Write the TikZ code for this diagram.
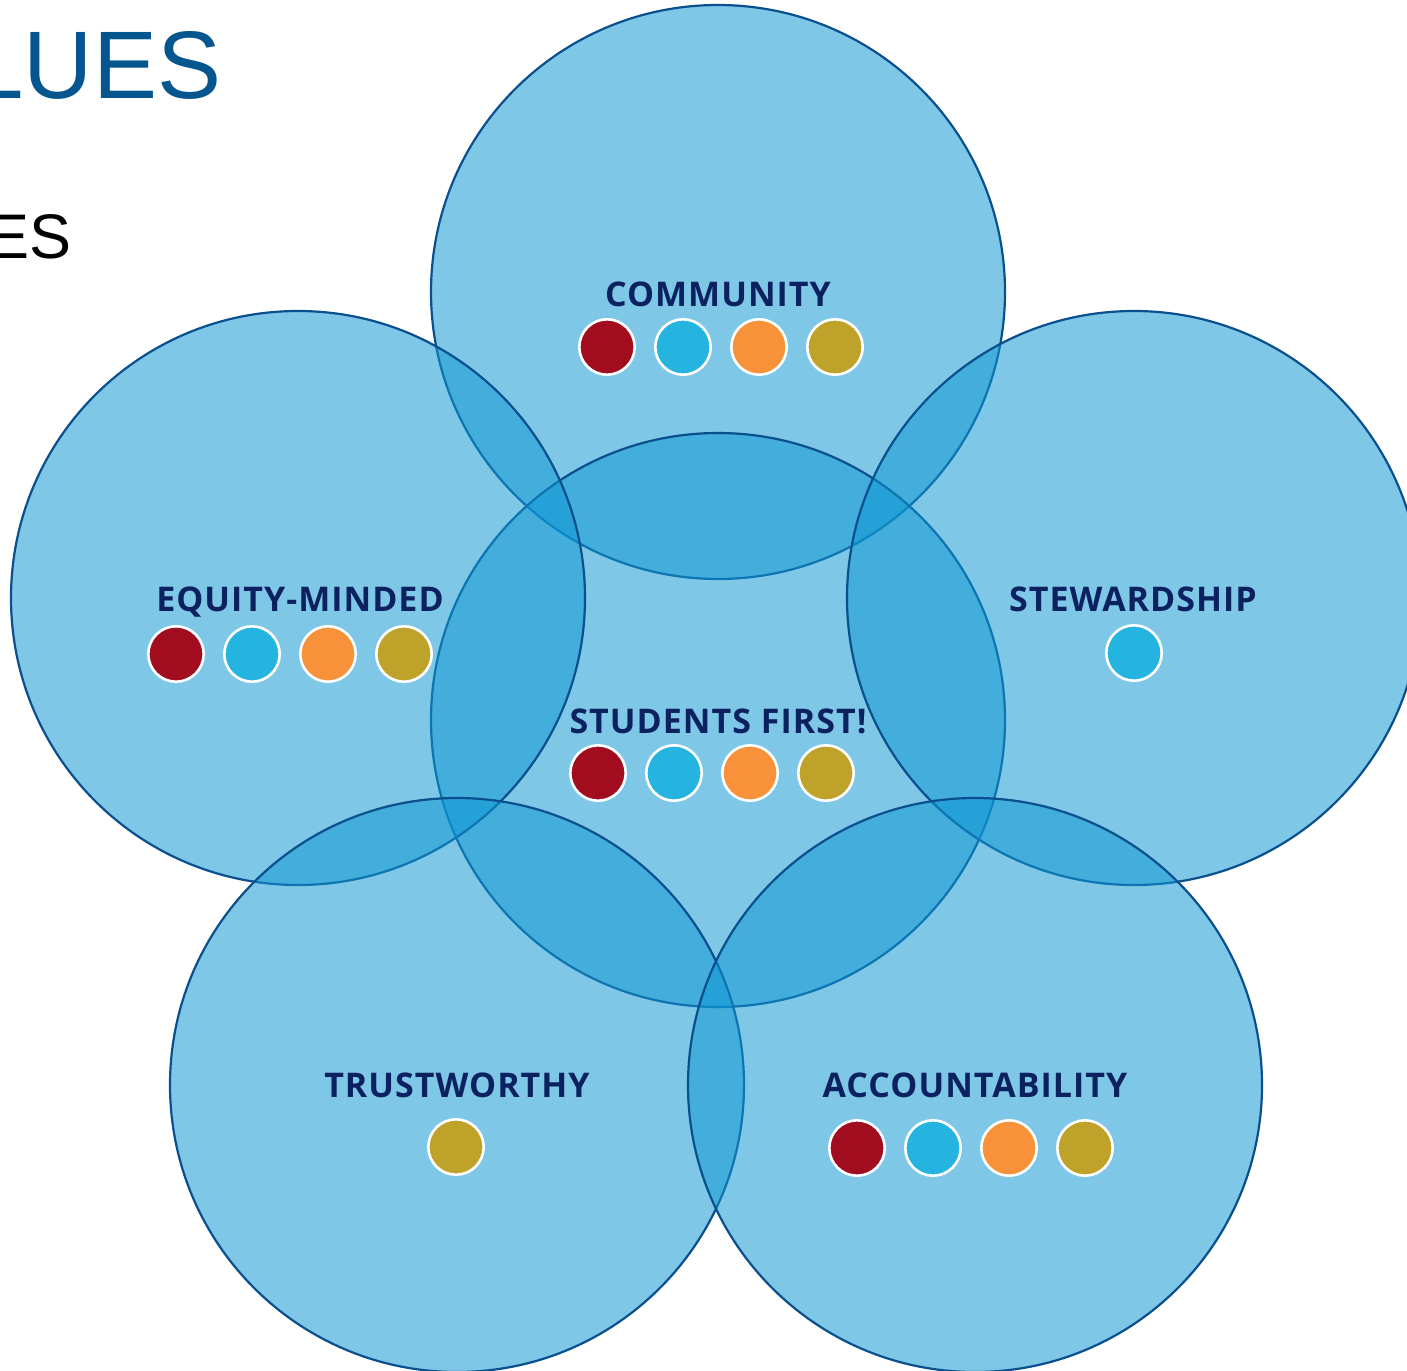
\documentclass[tikz,border=0pt]{standalone}
\usepackage{fontspec}
\setmainfont{Liberation Sans}
\newfontfamily\labelfont[LetterSpace=3]{Open Sans}

\definecolor{ringfill}{RGB}{14,151,211}
\definecolor{ringline}{RGB}{10,79,142}
\definecolor{navy}{RGB}{12,34,96}
\definecolor{titleblue}{RGB}{5,85,143}
\definecolor{dred}{RGB}{161,12,30}
\definecolor{dcyan}{RGB}{37,180,224}
\definecolor{dorange}{RGB}{247,146,58}
\definecolor{dolive}{RGB}{190,162,41}

\begin{document}
\begin{tikzpicture}[
    x=0.5pt, y=-0.5pt,
    valring/.style={circle, minimum size=287pt, inner sep=0pt, fill=ringfill, fill opacity=0.53, draw=ringline, line width=1.1pt},
    vallabel/.style={anchor=base, inner sep=0pt, text=navy, font=\labelfont\bfseries\fontsize{17}{19}\selectfont},
    dot/.style={circle, minimum size=27.7pt, inner sep=0pt, draw=white, line width=1.3pt}
]
\fill[white] (0,0) rectangle (1407,1370);
\useasboundingbox (0,0) rectangle (1407,1370);

\node[anchor=base west, inner sep=0pt, text=titleblue, font=\fontsize{48}{54}\selectfont] (title) at (-30,98) {LUES};
\node[anchor=base west, inner sep=0pt, font=\fontsize{31.5}{36}\selectfont] (subtitle) at (-13,258) {ES};

\node[valring] (community) at (718,292) {};
\node[valring] (students) at (718,720) {};
\node[valring] (equity) at (298,598) {};
\node[valring] (stewardship) at (1134,598) {};
\node[valring] (trust) at (457,1085) {};
\node[valring] (account) at (975,1085) {};

\node[vallabel] (community-lbl) at (718,306) {COMMUNITY};
\node[vallabel] (equity-lbl) at (300,611) {EQUITY-MINDED};
\node[vallabel] (students-lbl) at (718,733) {STUDENTS FIRST!};
\node[vallabel] (stewardship-lbl) at (1133,611) {STEWARDSHIP};
\node[vallabel] (trust-lbl) at (457,1097) {TRUSTWORTHY};
\node[vallabel] (account-lbl) at (975,1097) {ACCOUNTABILITY};

\foreach \c [count=\i] in {dred,dcyan,dorange,dolive}{
  \node[dot, fill=\c] (community-\i) at ({607+76*(\i-1)},347) {};
  \node[dot, fill=\c] (equity-\i) at ({176+76*(\i-1)},654) {};
  \node[dot, fill=\c] (students-\i) at ({598+76*(\i-1)},773) {};
  \node[dot, fill=\c] (account-\i) at ({857+76*(\i-1)},1148) {};
}
\node[dot, fill=dcyan] (stewardship-1) at (1134,653) {};
\node[dot, fill=dolive] (trust-1) at (456,1147) {};

\end{tikzpicture}
\end{document}
